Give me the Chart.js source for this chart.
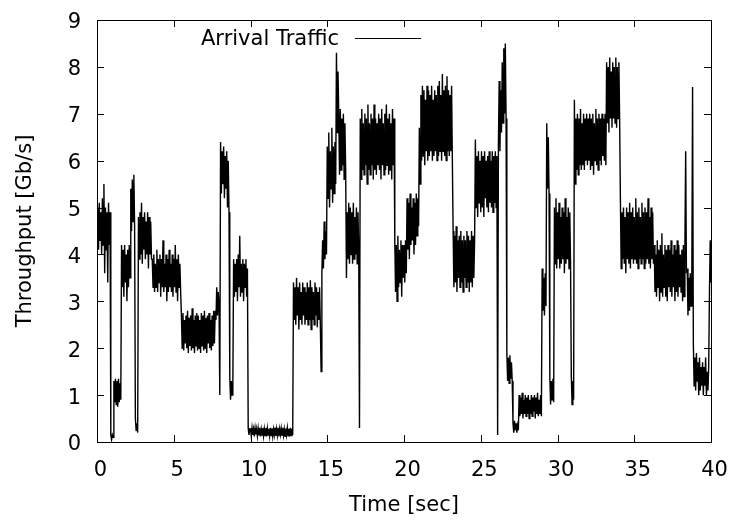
<!DOCTYPE html>
<html>
<head>
<meta charset="utf-8">
<title>Arrival Traffic</title>
<script src="https://cdn.jsdelivr.net/npm/chart.js@4/dist/chart.umd.min.js"></script>
<style>
  html, body { margin: 0; padding: 0; background: #fff; }
  canvas { display: block; }
</style>
</head>
<body>
<canvas id="throughput" width="733" height="524"></canvas>
<script>
// throughput samples [Gb/s], one every sampleStep seconds
const sampleStep = 0.05;

// 0.00 - 9.95 s
const traffic0to10 = [
  4.4, 5.0, 4.1, 5.1, 4.3, 4.9, 4.0, 5.2, 4.2, 5.5, 3.6, 5.0, 4.1, 4.9, 3.4, 5.1, 4.2, 4.9,
  0.15, 0.05, 0.15, 0.1,
  1.3, 0.85, 1.35, 0.8, 1.3, 0.75, 1.35, 0.85, 1.25, 0.9,
  4.2, 3.3, 4.1, 3.1, 4.2, 3.4, 4.0, 3.0, 4.1, 3.3, 4.2, 3.5,
  5.4, 4.5, 5.6, 4.7, 5.7, 4.6,
  0.5, 0.25, 0.4, 0.2,
  4.8, 3.9, 4.9, 4.0, 5.1, 3.8, 4.8, 4.1, 4.9, 3.9, 4.7, 4.0, 4.9, 3.7, 4.8, 4.0, 4.7, 3.9,
  3.9, 3.3, 4.0, 3.2, 3.8, 3.3, 4.1, 3.2, 3.9, 3.4, 4.0, 3.1, 3.9, 3.3, 4.3, 3.2, 3.8, 3.3, 4.0, 3.0,
  3.9, 3.2, 4.1, 3.3, 3.8, 3.2, 4.0, 3.1, 3.9, 3.3, 4.2, 3.2, 3.9, 3.0, 4.0, 3.3, 3.8, 3.2,
  2.7, 2.0, 2.75, 1.95, 2.6, 2.1, 2.7, 2.0, 2.8, 1.9, 2.65, 2.05, 2.7, 1.95, 2.85, 2.0, 2.6, 1.9, 2.7, 2.05, 2.75, 1.95,
  2.7, 2.0, 2.6, 1.9, 2.75, 2.05, 2.7, 1.95, 2.8, 2.0, 2.65, 1.9, 2.7, 2.1, 2.75, 2.0, 2.6, 1.95, 2.7, 2.05, 2.8, 2.1,
  2.8, 2.6, 3.3, 2.7, 3.2, 2.9,
  1.0,
  6.4, 5.3, 6.2, 5.5, 6.3, 5.2, 6.1, 5.4, 6.2, 5.0, 6.0, 4.9,
  1.4, 0.9, 1.3, 1.0, 1.2,
  3.9, 3.1, 3.8, 3.2, 3.9, 3.0, 4.0, 3.3, 4.4, 3.1, 3.8, 3.2, 3.9, 3.0, 3.8, 3.3, 3.9, 3.1, 3.7,
  0.3, 0.15, 0.28
];

// 10.00 - 19.95 s
const traffic10to20 = [
  0.28, 0.13, 0.3, 0.15, 0.27, 0.12, 0.3, 0.16, 0.28, 0.13, 0.29, 0.14, 0.3, 0.12,
  0.27, 0.15, 0.3, 0.13, 0.28, 0.14, 0.3, 0.12, 0.29, 0.15, 0.28, 0.13, 0.3, 0.14,
  0.29, 0.12, 0.27, 0.15, 0.31, 0.13, 0.28, 0.14, 0.3, 0.12, 0.28, 0.16, 0.29, 0.13,
  0.3, 0.14, 0.27, 0.12, 0.29, 0.15, 0.3, 0.13, 0.28, 0.12, 0.3, 0.14, 0.28, 0.15,
  3.4, 2.6, 3.3, 2.5, 3.5, 2.7, 3.3, 2.4, 3.4, 2.6, 3.2, 2.5, 3.4, 2.7, 3.3, 2.5, 3.2, 2.6,
  3.4, 2.5, 3.3, 2.6, 3.45, 2.4, 3.3, 2.6, 3.2, 2.5, 3.4, 2.7, 3.3, 2.45, 3.2, 2.6, 3.3, 2.5,
  1.5,
  3.6, 4.3, 3.7, 4.7, 3.9, 4.5, 4.0,
  6.3, 5.2, 6.6, 5.0, 6.2, 5.4, 6.7, 5.1, 6.3, 5.3, 6.4, 5.5,
  8.3, 6.6, 7.9,
  7.0, 5.7, 7.1, 5.8, 6.9, 5.9, 7.0, 5.6, 6.8, 5.8,
  3.5, 4.9, 3.9, 5.1, 3.8, 5.0, 4.0, 4.9, 3.8, 5.1, 3.9, 4.8, 4.0, 5.0, 3.8, 4.9, 4.1,
  0.3,
  6.9, 5.6, 7.1, 5.8, 6.8, 5.7, 7.0, 5.9, 6.9, 5.5, 7.2, 5.8, 6.8, 5.7, 7.0, 5.9, 6.9, 5.6, 7.2, 5.8, 6.9, 5.7,
  6.8, 5.9, 7.0, 5.8, 6.9, 5.6, 7.1, 5.9, 6.8, 5.7, 7.0, 5.8, 7.2, 5.9, 6.9, 5.7, 7.0, 5.8, 6.8, 5.6, 7.1, 5.9, 6.9,
  4.3, 3.2, 4.2, 3.0, 4.4, 3.3, 4.1, 3.4, 4.3, 3.1, 4.2, 3.5
];

// 20.00 - 29.95 s
const traffic20to30 = [
  4.2, 3.4, 4.3, 3.6,
  5.2, 4.1, 5.1, 3.9, 5.3, 4.2, 5.0, 4.3, 5.2, 4.0, 5.1, 4.2, 5.3, 4.4, 5.2, 4.6,
  6.7, 5.5, 7.4, 6.0, 7.6, 6.1, 7.5, 5.9, 7.3, 6.2, 7.6, 6.0, 7.5, 6.1, 7.4, 6.2, 7.6, 6.0, 7.3, 6.1, 7.5, 6.2,
  7.4, 6.0, 7.6, 6.1, 7.7, 6.2, 7.4, 6.0, 7.85, 6.2, 7.5, 6.1, 7.6, 6.0, 7.8, 6.2, 7.5, 6.1, 7.4, 6.2, 7.6, 6.0,
  4.5, 3.3, 4.4, 3.4, 4.6, 3.2, 4.3, 3.5, 4.4, 3.3, 4.5, 3.4, 4.3, 3.2, 4.4, 3.5, 4.3, 3.3, 4.5, 3.4,
  4.4, 3.2, 4.3, 3.4, 4.5, 3.3, 4.4, 3.5, 4.3,
  6.45, 5.0, 6.1, 4.8, 6.2, 5.1, 6.0, 4.9, 6.2, 5.0, 6.1, 4.8, 6.2, 5.2, 6.0, 5.0, 6.1, 4.9, 6.2, 5.1,
  6.0, 5.0, 6.2, 4.9, 6.1, 5.1, 6.2, 5.0, 6.1,
  0.15,
  6.3, 7.7, 6.2, 7.5, 6.6, 8.1, 6.8, 8.4, 7.0, 8.5, 6.9,
  1.9, 1.3, 1.8, 1.25, 1.85, 1.35, 1.7, 1.3,
  0.4, 0.2, 0.45, 0.25, 0.4, 0.2, 0.35, 0.25,
  1.0, 0.55, 0.95, 0.6, 1.05, 0.5, 0.9, 0.6, 1.0, 0.55, 0.95, 0.6, 1.0, 0.5, 0.9,
  0.6, 1.0, 0.55, 0.95, 0.65, 1.0, 0.5, 0.95, 0.6, 1.05, 0.55, 0.9, 0.6, 1.0, 0.55,
  3.7, 2.8, 3.5, 2.7, 3.6, 2.9,
  6.8, 5.4, 6.5, 5.3,
  1.4, 0.8, 1.3, 0.9, 1.35, 0.85,
  5.0, 3.8, 5.2, 3.7
];

// 30.00 - 40.00 s
const traffic30to40 = [
  4.9, 3.9, 5.1, 3.7, 4.8, 3.8, 5.0, 3.9, 4.9, 3.6, 5.2, 3.8, 4.8, 3.9, 5.0, 3.7, 4.9, 3.8,
  1.4, 0.8, 1.3, 0.9,
  7.3, 5.5, 6.9, 5.8, 7.0, 5.7, 6.9, 5.9, 7.1, 5.8, 6.8, 5.9, 7.0, 5.8, 6.9, 6.0, 7.0, 5.9, 6.9, 6.0, 7.0,
  5.8, 6.9, 5.9, 7.0, 5.7, 6.8, 6.0, 7.1, 5.9, 6.9, 5.8, 7.0, 6.0, 6.9, 5.9, 7.0, 6.1, 6.9, 6.0, 7.0, 5.9,
  8.1, 6.8, 8.0, 6.6, 8.2, 6.9, 7.9, 6.7, 8.1, 6.9, 8.0, 6.8, 8.2, 6.7, 8.0, 6.9, 8.1, 6.8,
  5.1, 3.7, 4.9, 3.9, 5.0, 3.8, 4.8, 3.6, 5.0, 3.9, 4.9, 3.8, 5.1, 3.7, 4.9, 3.9, 5.0, 3.8, 4.8, 3.9, 5.2, 3.8,
  4.9, 3.7, 5.0, 3.9, 4.8, 3.8, 5.1, 3.9, 4.9, 3.7, 5.0, 3.8, 4.9, 3.9, 5.2, 3.8, 4.8, 3.7, 5.0, 3.9, 4.9, 3.8,
  4.2, 3.2, 4.0, 3.1, 4.3, 3.3, 4.1, 3.0, 4.2, 3.2, 4.45, 3.1, 4.0, 3.3, 4.2, 3.1, 4.1, 3.0, 4.2, 3.3,
  4.1, 3.2, 4.3, 3.1, 4.0, 3.3, 4.2, 3.0, 4.1, 3.2, 4.3, 3.1, 4.2, 3.3, 4.0, 3.2, 4.1, 3.0, 4.2, 3.1,
  4.2, 6.2, 3.6,
  3.7, 2.7, 3.5, 2.8, 3.6, 2.9, 3.4,
  7.57,
  2.1, 1.2, 1.8, 1.1, 1.9, 1.3, 1.7, 1.0, 1.8, 1.1, 1.6, 1.2, 1.7, 1.0, 1.6, 1.2, 1.8, 1.0, 1.5, 1.1, 1.6,
  3.2, 4.3, 3.4
];

const xTicks = [0, 5, 10, 15, 20, 25, 30, 35, 40];
const yTicks = [0, 1, 2, 3, 4, 5, 6, 7, 8, 9];

const throughput = [...traffic0to10, ...traffic10to20, ...traffic20to30, ...traffic30to40];
const points = throughput.map((v, i) => ({ x: +(i * sampleStep).toFixed(2), y: v }));

Chart.defaults.font.family = "'DejaVu Sans', sans-serif";
Chart.defaults.color = "#000";

// gnuplot style box with inward ticks on all four sides, plus the key
const frameAndKey = {
  id: "frameAndKey",
  afterDraw(chart) {
    const { ctx, chartArea: a, scales: { x, y } } = chart;
    const len = 7;
    ctx.save();
    ctx.strokeStyle = "#000";
    ctx.lineWidth = 1;
    ctx.beginPath();
    x.ticks.forEach(t => {
      const px = Math.round(x.getPixelForValue(t.value)) + 0.5;
      ctx.moveTo(px, a.bottom);
      ctx.lineTo(px, a.bottom - len);
      ctx.moveTo(px, a.top);
      ctx.lineTo(px, a.top + len);
    });
    y.ticks.forEach(t => {
      const py = Math.round(y.getPixelForValue(t.value)) + 0.5;
      ctx.moveTo(a.left, py);
      ctx.lineTo(a.left + len, py);
      ctx.moveTo(a.right, py);
      ctx.lineTo(a.right - len, py);
    });
    ctx.stroke();
    ctx.strokeRect(a.left + 0.5, a.top + 0.5, a.right - a.left, a.bottom - a.top);

    // key
    ctx.font = "21px 'DejaVu Sans'";
    ctx.fillStyle = "#000";
    ctx.textAlign = "right";
    ctx.textBaseline = "alphabetic";
    ctx.fillText(chart.data.datasets[0].label, 339, 45);
    ctx.beginPath();
    ctx.moveTo(355, 38.5);
    ctx.lineTo(421, 38.5);
    ctx.stroke();
    ctx.restore();
  }
};

new Chart(document.getElementById("throughput"), {
  type: "line",
  data: {
    datasets: [
      {
        label: "Arrival Traffic",
        data: points,
        borderColor: "#000",
        borderWidth: 1.4,
        pointRadius: 0,
        tension: 0,
        fill: false
      }
    ]
  },
  options: {
    responsive: false,
    animation: false,
    events: [],
    layout: { padding: { left: 0, right: 22, top: 20, bottom: 0 } },
    plugins: {
      legend: { display: false },
      tooltip: { enabled: false }
    },
    scales: {
      x: {
        type: "linear",
        min: 0,
        max: 40,
        afterFit: s => { s.height = 82; s.paddingLeft = 0; s.paddingRight = 0; },
        afterBuildTicks: s => { s.ticks = xTicks.map(v => ({ value: v })); },
        grid: { display: false, drawTicks: false },
        border: { display: false },
        ticks: { font: { size: 21 }, padding: 16, labelOffset: 3.5, maxRotation: 0, autoSkip: false },
        title: { display: true, text: "Time [sec]", font: { size: 21 }, padding: { top: 0, bottom: 6 } }
      },
      y: {
        type: "linear",
        min: 0,
        max: 9,
        afterFit: s => { s.width = 97; s.paddingTop = 0; s.paddingBottom = 0; },
        afterBuildTicks: s => { s.ticks = yTicks.map(v => ({ value: v })); },
        grid: { display: false, drawTicks: false },
        border: { display: false },
        ticks: { font: { size: 21 }, padding: 16, labelOffset: 3, autoSkip: false },
        title: { display: true, text: "Throughput [Gb/s]", font: { size: 21 }, padding: { top: 12.7, bottom: 0 } }
      }
    }
  },
  plugins: [frameAndKey]
});
</script>
</body>
</html>
